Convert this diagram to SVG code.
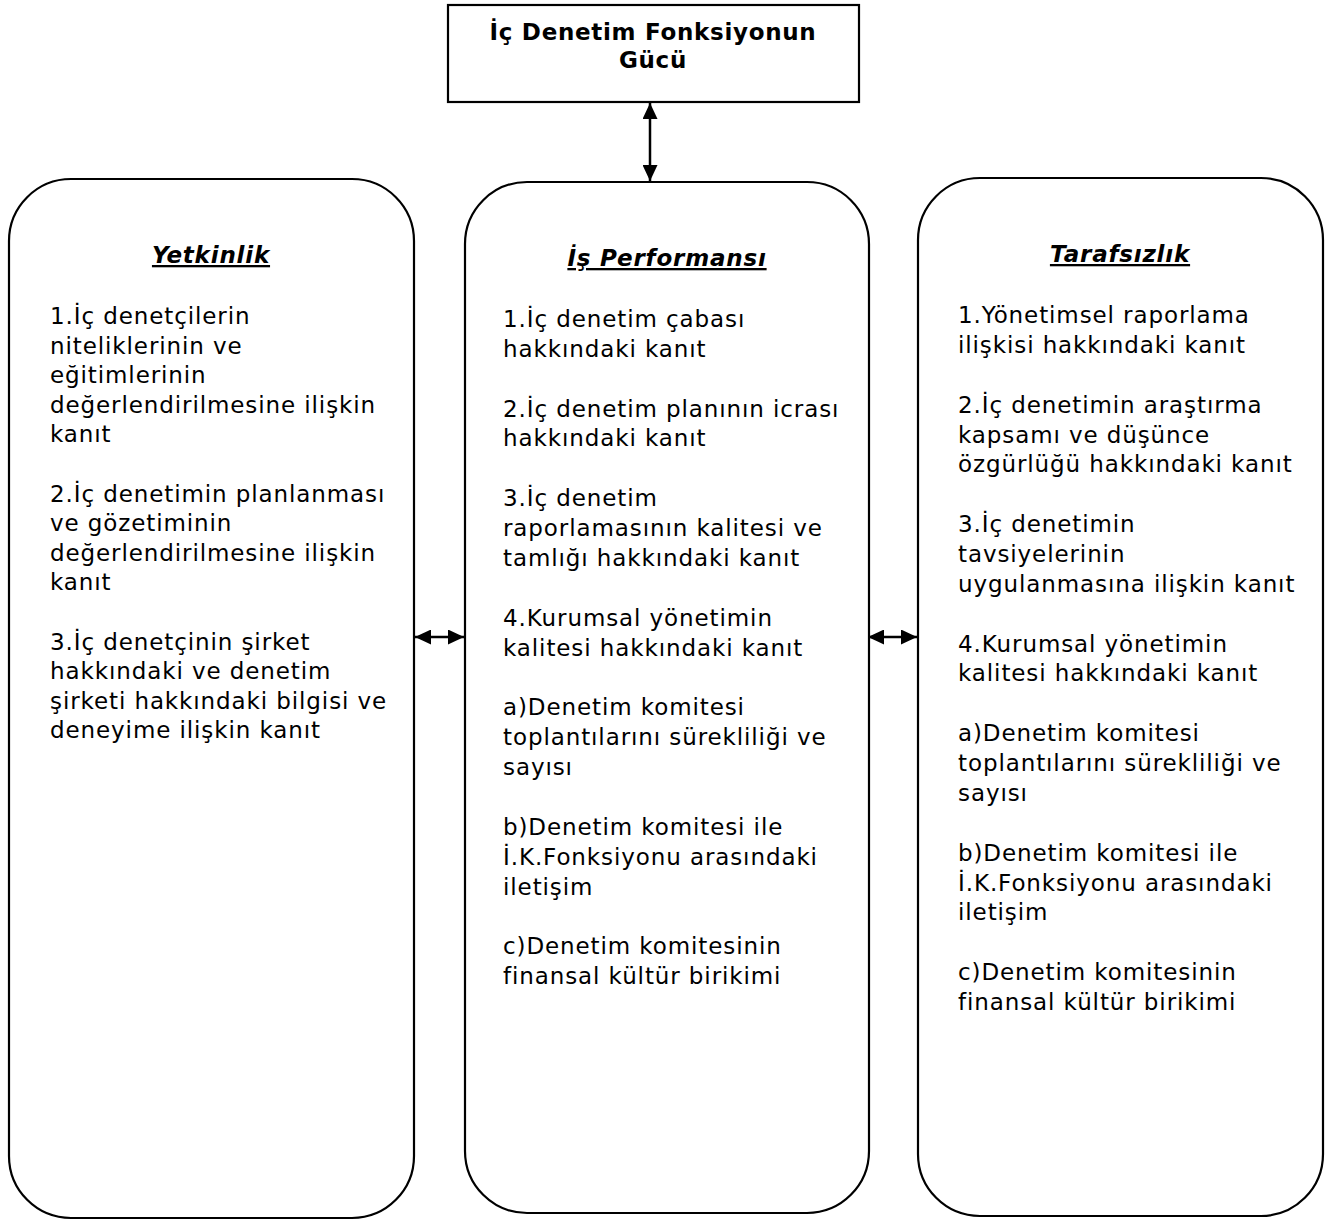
<svg xmlns="http://www.w3.org/2000/svg" width="1335" height="1222" viewBox="0 0 1335 1222">
<style>
.box{fill:#fff;stroke:#000;stroke-width:2.2}
.t{font-family:"DejaVu Sans",Verdana,sans-serif;font-size:23px;letter-spacing:0.9px;fill:#000}
.h{font-family:"DejaVu Sans",Verdana,sans-serif;font-size:23px;letter-spacing:0.7px;font-weight:bold;fill:#000}
.ti{font-family:"DejaVu Sans",Verdana,sans-serif;font-size:23px;letter-spacing:0.8px;font-weight:bold;font-style:italic;text-decoration:underline;fill:#000}
.c{stroke:#000;stroke-width:2.5;fill:none}
</style>
<defs>
<marker id="ah" viewBox="0 0 10 10" refX="10" refY="5" markerWidth="16" markerHeight="15" markerUnits="userSpaceOnUse" orient="auto-start-reverse" preserveAspectRatio="none">
<path d="M0,0 L10,5 L0,10 Z" fill="#000"/>
</marker>
</defs>
<rect width="1335" height="1222" fill="#fff"/>
<g id="top">
<rect class="box" x="448" y="5" width="411" height="97"/>
<text class="h" text-anchor="middle"><tspan x="653" y="40">İç Denetim Fonksiyonun</tspan><tspan x="653" y="68">Gücü</tspan></text>
</g>
<g id="yetkinlik">
<rect class="box" x="9" y="179" width="405" height="1039" rx="62" ry="62"/>
<text class="ti" x="211" y="263" text-anchor="middle">Yetkinlik</text>
<text class="t">
<tspan x="50" y="324">1.İç denetçilerin</tspan>
<tspan x="50" y="354">niteliklerinin ve</tspan>
<tspan x="50" y="383">eğitimlerinin</tspan>
<tspan x="50" y="413">değerlendirilmesine ilişkin</tspan>
<tspan x="50" y="442">kanıt</tspan>
<tspan x="50" y="502">2.İç denetimin planlanması</tspan>
<tspan x="50" y="531">ve gözetiminin</tspan>
<tspan x="50" y="561">değerlendirilmesine ilişkin</tspan>
<tspan x="50" y="590">kanıt</tspan>
<tspan x="50" y="650">3.İç denetçinin şirket</tspan>
<tspan x="50" y="679">hakkındaki ve denetim</tspan>
<tspan x="50" y="709">şirketi hakkındaki bilgisi ve</tspan>
<tspan x="50" y="738">deneyime ilişkin kanıt</tspan>
</text>
</g>
<g id="isperformansi">
<rect class="box" x="465" y="182" width="404" height="1031" rx="62" ry="62"/>
<text class="ti" x="667" y="266" text-anchor="middle">İş Performansı</text>
<text class="t">
<tspan x="503" y="327">1.İç denetim çabası</tspan>
<tspan x="503" y="357">hakkındaki kanıt</tspan>
<tspan x="503" y="417">2.İç denetim planının icrası</tspan>
<tspan x="503" y="446">hakkındaki kanıt</tspan>
<tspan x="503" y="506">3.İç denetim</tspan>
<tspan x="503" y="536">raporlamasının kalitesi ve</tspan>
<tspan x="503" y="566">tamlığı hakkındaki kanıt</tspan>
<tspan x="503" y="626">4.Kurumsal yönetimin</tspan>
<tspan x="503" y="656">kalitesi hakkındaki kanıt</tspan>
<tspan x="503" y="715">a)Denetim komitesi</tspan>
<tspan x="503" y="745">toplantılarını sürekliliği ve</tspan>
<tspan x="503" y="775">sayısı</tspan>
<tspan x="503" y="835">b)Denetim komitesi ile</tspan>
<tspan x="503" y="865">İ.K.Fonksiyonu arasındaki</tspan>
<tspan x="503" y="895">iletişim</tspan>
<tspan x="503" y="954">c)Denetim komitesinin</tspan>
<tspan x="503" y="984">finansal kültür birikimi</tspan>
</text>
</g>
<g id="tarafsizlik">
<rect class="box" x="918" y="178" width="405" height="1038" rx="62" ry="62"/>
<text class="ti" x="1120" y="262" text-anchor="middle">Tarafsızlık</text>
<text class="t">
<tspan x="958" y="323">1.Yönetimsel raporlama</tspan>
<tspan x="958" y="353">ilişkisi hakkındaki kanıt</tspan>
<tspan x="958" y="413">2.İç denetimin araştırma</tspan>
<tspan x="958" y="443">kapsamı ve düşünce</tspan>
<tspan x="958" y="472">özgürlüğü hakkındaki kanıt</tspan>
<tspan x="958" y="532">3.İç denetimin</tspan>
<tspan x="958" y="562">tavsiyelerinin</tspan>
<tspan x="958" y="592">uygulanmasına ilişkin kanıt</tspan>
<tspan x="958" y="652">4.Kurumsal yönetimin</tspan>
<tspan x="958" y="681">kalitesi hakkındaki kanıt</tspan>
<tspan x="958" y="741">a)Denetim komitesi</tspan>
<tspan x="958" y="771">toplantılarını sürekliliği ve</tspan>
<tspan x="958" y="801">sayısı</tspan>
<tspan x="958" y="861">b)Denetim komitesi ile</tspan>
<tspan x="958" y="891">İ.K.Fonksiyonu arasındaki</tspan>
<tspan x="958" y="920">iletişim</tspan>
<tspan x="958" y="980">c)Denetim komitesinin</tspan>
<tspan x="958" y="1010">finansal kültür birikimi</tspan>
</text>
</g>
<g id="connectors">
<line class="c" x1="650" y1="103" x2="650" y2="181" marker-start="url(#ah)" marker-end="url(#ah)"/>
<line class="c" x1="415" y1="637" x2="464" y2="637" marker-start="url(#ah)" marker-end="url(#ah)"/>
<line class="c" x1="868" y1="637" x2="917" y2="637" marker-start="url(#ah)" marker-end="url(#ah)"/>
</g>
</svg>
